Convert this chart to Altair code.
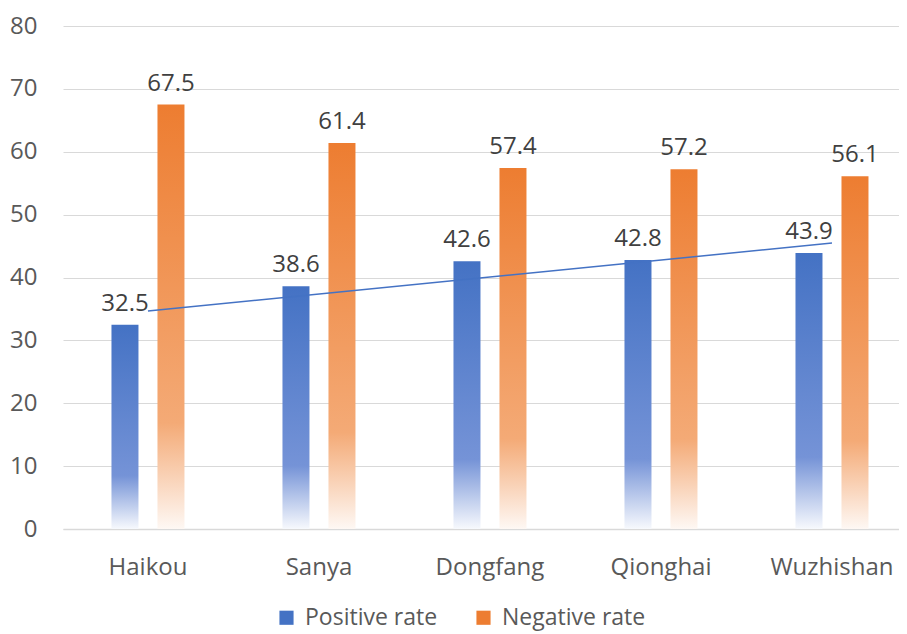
import altair as alt
import pandas as pd

categories = ["Haikou", "Sanya", "Dongfang", "Qionghai", "Wuzhishan"]
positive = [32.5, 38.6, 42.6, 42.8, 43.9]
negative = [67.5, 61.4, 57.4, 57.2, 56.1]
series_names = ["Positive rate", "Negative rate"]
series_colors = ["#4472C4", "#ED7D31"]
y_ticks = [0, 10, 20, 30, 40, 50, 60, 70, 80]

df = pd.DataFrame({
    "cat": categories,
    "idx": list(range(len(categories))),
    "Positive rate": positive,
    "Negative rate": negative,
})

FONT = "Open Sans"

x_enc = alt.X(
    "cat:N",
    sort=categories,
    scale=alt.Scale(paddingInner=0.5, paddingOuter=0.1944, align=0.635),
    axis=alt.Axis(
        title=None, labelAngle=0, ticks=False, domain=True, domainColor="#D9D9D9",
        domainWidth=1.5, grid=False, labelFontSize=24, labelColor="#595959",
        labelFont=FONT, labelPadding=26,
    ),
)

y_scale = alt.Scale(domain=[0, 80], nice=False)
y_axis = alt.Axis(
    title=None, values=y_ticks, domain=False, ticks=False, grid=True,
    gridColor="#D9D9D9", gridWidth=1.2, labelFontSize=24, labelColor="#595959",
    labelFont=FONT, labelPadding=26,
)

blue_grad = alt.Gradient(
    gradient="linear", x1=0, x2=0, y1=0, y2=1,
    stops=[
        alt.GradientStop(offset=0, color="#4472C4"),
        alt.GradientStop(offset=0.74, color="#7593D7"),
        alt.GradientStop(offset=1, color="#F7F9FD"),
    ],
)
orange_grad = alt.Gradient(
    gradient="linear", x1=0, x2=0, y1=0, y2=1,
    stops=[
        alt.GradientStop(offset=0, color="#ED7D31"),
        alt.GradientStop(offset=0.75, color="#F4AA76"),
        alt.GradientStop(offset=1, color="#FEF8F4"),
    ],
)

base = alt.Chart(df)

bars_pos = base.mark_bar(size=27, xOffset=-23, color=blue_grad).encode(
    x=x_enc, y=alt.Y("Positive rate:Q", scale=y_scale, axis=y_axis)
)
bars_neg = base.mark_bar(size=27, xOffset=23, color=orange_grad).encode(
    x=x_enc, y=alt.Y("Negative rate:Q", scale=y_scale, axis=y_axis)
)

text_pos = base.mark_text(dx=-23, dy=-14, baseline="alphabetic", fontSize=24,
                          font=FONT, color="#404040").encode(
    x=x_enc, y=alt.Y("Positive rate:Q", scale=y_scale, axis=y_axis),
    text=alt.Text("Positive rate:Q", format=".1f"),
)
text_neg = base.mark_text(dx=23, dy=-14, baseline="alphabetic", fontSize=24,
                          font=FONT, color="#404040").encode(
    x=x_enc, y=alt.Y("Negative rate:Q", scale=y_scale, axis=y_axis),
    text=alt.Text("Negative rate:Q", format=".1f"),
)

cat_expr = "[" + ",".join("'" + c + "'" for c in categories) + "][datum.idx]"
trend = base.transform_regression(
    "idx", "Positive rate", extent=[0, len(categories) - 1]
).transform_calculate(cat=cat_expr).mark_line(
    color="#4472C4", strokeWidth=1.5
).encode(
    x=x_enc, y=alt.Y("Positive rate:Q", scale=y_scale, axis=y_axis)
)

legend_layer = base.transform_fold(
    series_names, as_=["series", "value"]
).mark_bar(opacity=0).encode(
    x=x_enc,
    y=alt.Y("value:Q", scale=y_scale, axis=y_axis),
    color=alt.Color(
        "series:N",
        scale=alt.Scale(domain=series_names, range=series_colors),
        legend=alt.Legend(
            title=None, orient="none", direction="horizontal",
            legendX=212, legendY=580, symbolType="square", symbolSize=200,
            symbolOpacity=1, symbolStrokeWidth=0, labelFontSize=23,
            labelFont=FONT, labelColor="#595959", columnPadding=34,
            labelOffset=7,
        ),
    ),
)

chart = alt.layer(
    legend_layer, bars_pos, bars_neg, trend, text_pos, text_neg
).properties(
    width=836, height=503,
    autosize=alt.AutoSizeParams(type="none"),
    padding={"left": 55, "top": 18, "right": 0, "bottom": 105},
).configure_view(stroke=None)

chart.save("out.html", embed_options={"renderer": "svg", "actions": False})
